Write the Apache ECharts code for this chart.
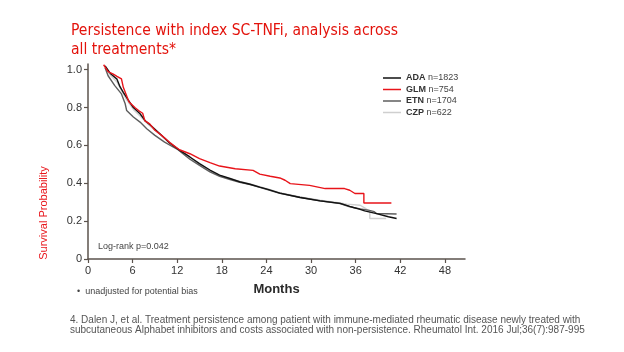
<!DOCTYPE html>
<html lang="en">
<head>
<meta charset="UTF-8">
<title>Persistence with index SC-TNFi</title>
<style>
  html, body { margin: 0; padding: 0; background: #fff; }
  #main { width: 624px; height: 352px; }
</style>
</head>
<body>
<div id="main"></div>
<script src="https://cdn.jsdelivr.net/npm/echarts@6/dist/echarts.min.js"></script>
<script>
// [months, survival probability]
const ada = [[2.3,1.02],[3.0,0.98],[3.9,0.95],[4.3,0.91],[4.75,0.88],[5.4,0.84],[6.1,0.80],[7.0,0.767],[7.7,0.73],[8.6,0.70],[9.7,0.66],[11.0,0.612],[12.4,0.572],[13.7,0.539],[15.0,0.504],[16.4,0.47],[17.7,0.443],[19.1,0.425],[20.4,0.408],[21.8,0.395],[23.1,0.38],[24.2,0.368],[25.8,0.348],[28.5,0.325],[31.2,0.307],[33.9,0.294],[35.2,0.278],[35.7,0.272],[36.6,0.262],[37.2,0.254],[38.8,0.24],[40.4,0.223],[40.4,0.214],[41.5,0.214]];
const glm = [[2.1,1.026],[2.7,0.99],[3.4,0.977],[3.9,0.965],[4.5,0.951],[4.75,0.907],[5.1,0.872],[5.5,0.83],[6.3,0.80],[6.8,0.784],[7.35,0.77],[7.65,0.73],[8.3,0.714],[9.0,0.68],[9.9,0.653],[11.0,0.615],[12.3,0.577],[13.7,0.556],[15.0,0.53],[16.4,0.509],[17.7,0.491],[19.8,0.477],[22.2,0.468],[23.1,0.448],[24.5,0.437],[25.8,0.428],[26.5,0.416],[27.2,0.398],[29.8,0.389],[31.9,0.372],[34.5,0.372],[34.5,0.365],[35.2,0.363],[35.9,0.346],[37.1,0.346],[37.1,0.296],[40.8,0.296]];
const etn = [[2.3,1.01],[2.7,0.968],[3.6,0.916],[4.5,0.872],[5.0,0.82],[5.2,0.784],[6.1,0.75],[7.0,0.723],[7.9,0.688],[9.0,0.653],[10.3,0.617],[12.1,0.577],[13.7,0.527],[15.0,0.495],[16.4,0.46],[17.7,0.437],[19.1,0.42],[20.4,0.405],[21.8,0.393],[23.1,0.378],[25.8,0.347],[28.5,0.326],[31.2,0.308],[33.9,0.293],[35.2,0.276],[36.6,0.265],[37.7,0.258],[38.5,0.25],[38.8,0.24],[41.5,0.238]];
const czp = [[2.3,1.01],[3.0,0.97],[3.9,0.935],[4.5,0.89],[5.2,0.84],[6.1,0.79],[7.0,0.755],[8.0,0.715],[9.0,0.68],[10.3,0.64],[12.1,0.58],[13.7,0.535],[15.0,0.5],[16.4,0.466],[17.7,0.44],[19.1,0.423],[20.4,0.41],[21.8,0.397],[23.1,0.382],[24.5,0.366],[25.8,0.35],[28.5,0.328],[31.2,0.31],[33.9,0.296],[34.8,0.29],[36.6,0.284],[37.2,0.27],[37.9,0.25],[37.9,0.214],[40.1,0.214]];

const seriesNames = ['ADA', 'GLM', 'ETN', 'CZP'];
const seriesCounts = { ADA: 1823, GLM: 754, ETN: 1704, CZP: 622 };
const seriesColors = { ADA: '#111111', GLM: '#e8141a', ETN: '#5e5e5e', CZP: '#cfcfcf' };
const seriesData = { ADA: ada, GLM: glm, ETN: etn, CZP: czp };
const seriesZ = { ADA: 4, GLM: 5, ETN: 3, CZP: 2 };

const xTicks = [0, 6, 12, 18, 24, 30, 36, 42, 48];
const yTicks = [0, 0.2, 0.4, 0.6, 0.8, 1.0];

const axisColor = '#5b534d';
const font = '"Liberation Sans", Arial, sans-serif';

var myChart = echarts.init(document.getElementById('main'), null, { renderer: 'canvas' });
var option = {
  animation: false,
  title: {
    text: 'Persistence with index SC-TNFi, analysis across\nall treatments*',
    left: 66,
    top: 16,
    textStyle: {
      color: '#e3120b',
      fontSize: 15.5,
      fontWeight: 'normal',
      lineHeight: 19,
      fontFamily: '"Liberation Sans Narrow", "DejaVu Sans Condensed", "Liberation Sans", sans-serif'
    }
  },
  legend: {
    orient: 'vertical',
    left: 378,
    top: 68,
    icon: 'rect',
    itemWidth: 18,
    itemHeight: 1.5,
    itemGap: 1.5,
    data: seriesNames,
    formatter: function (name) {
      return '{b|' + name + '} n=' + seriesCounts[name];
    },
    textStyle: {
      fontSize: 9,
      color: '#444',
      lineHeight: 10,
      fontFamily: font,
      rich: { b: { fontSize: 9, fontWeight: 'bold', color: '#333', lineHeight: 10, fontFamily: font } }
    }
  },
  grid: { left: 88, right: 159, top: 64, bottom: 93 },
  xAxis: {
    type: 'value',
    min: 0,
    max: 50.7,
    name: 'Months',
    nameLocation: 'middle',
    nameGap: 24,
    nameTextStyle: { fontSize: 13, fontWeight: 'bold', color: '#2a2a2a', fontFamily: font },
    axisLine: { lineStyle: { color: axisColor, width: 1.5 } },
    axisTick: { show: true, length: 4, customValues: xTicks, lineStyle: { color: axisColor, width: 1.2 } },
    axisLabel: { customValues: xTicks, fontSize: 11, color: '#333', margin: 6, fontFamily: font },
    splitLine: { show: false }
  },
  yAxis: {
    type: 'value',
    min: 0,
    max: 1.03,
    axisLine: { show: true, lineStyle: { color: axisColor, width: 1.5 } },
    axisTick: { show: true, length: 4, customValues: yTicks, lineStyle: { color: axisColor, width: 1.2 } },
    axisLabel: {
      customValues: yTicks,
      fontSize: 11,
      color: '#333',
      margin: 6,
      fontFamily: font,
      formatter: function (v) { return v === 0 ? '0' : v.toFixed(1); }
    },
    splitLine: { show: false }
  },
  series: seriesNames.map(function (name) {
    return {
      name: name,
      type: 'line',
      data: seriesData[name],
      symbol: 'none',
      z: seriesZ[name],
      color: seriesColors[name],
      lineStyle: { color: seriesColors[name], width: 1.4 }
    };
  }),
  graphic: [
    {
      type: 'text',
      x: 44,
      y: 213,
      rotation: Math.PI / 2,
      style: {
        text: 'Survival Probability',
        fill: '#e8141a',
        fontSize: 11,
        fontFamily: font,
        align: 'center',
        verticalAlign: 'middle'
      }
    },
    {
      type: 'text',
      x: 98,
      y: 247,
      style: { text: 'Log-rank p=0.042', fill: '#444', fontSize: 9, fontFamily: font, verticalAlign: 'middle' }
    },
    {
      type: 'text',
      x: 77,
      y: 292,
      style: { text: '\u2022  unadjusted for potential bias', fill: '#444', fontSize: 9, fontFamily: font, verticalAlign: 'middle' }
    },
    {
      type: 'text',
      x: 70,
      y: 315,
      style: {
        text: '4. Dalen J, et al. Treatment persistence among patient with immune-mediated rheumatic disease newly treated with\nsubcutaneous Alphabet inhibitors and costs associated with non-persistence. Rheumatol Int. 2016 Jul;36(7):987-995',
        fill: '#555',
        fontSize: 10,
        lineHeight: 10,
        fontFamily: font
      }
    }
  ]
};
myChart.setOption(option);
</script>
</body>
</html>
